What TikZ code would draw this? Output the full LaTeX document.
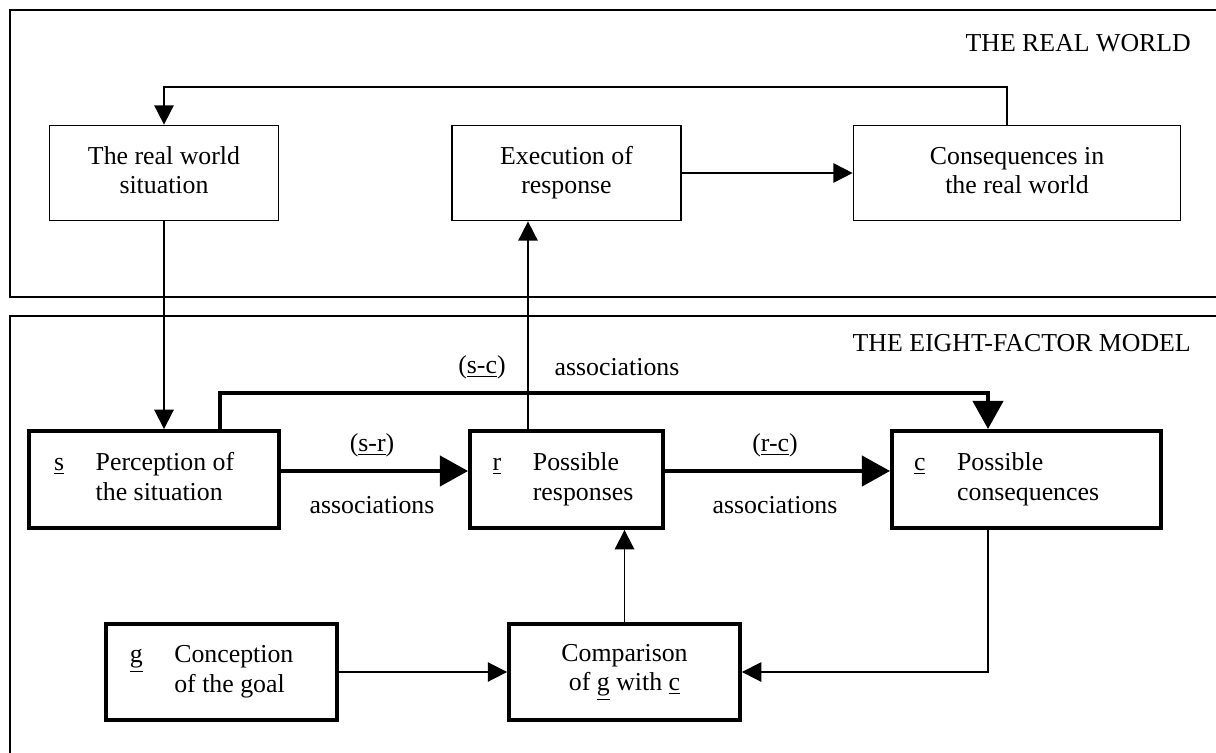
\documentclass[tikz,border=0pt]{standalone}
\usepackage{fontspec}
\setmainfont{Liberation Serif}
\usetikzlibrary{arrows.meta}

\newcommand{\lettered}[4][0pt]{\begin{tabular}{@{}l@{\hspace{18pt}}l@{}}\underline{#2} & #3\\ & #4\end{tabular}\hspace*{#1}}

\begin{document}
\begin{tikzpicture}[x=0.02cm, y=-0.02cm,
	every node/.style={font=\fontsize{14.7}{17}\selectfont},
	panel/.style={draw, line width=0.9pt},
	worldbox/.style={draw, line width=1pt, minimum width=4.58cm, minimum height=1.9cm, align=center, inner sep=0pt},
	factorbox/.style={draw, line width=2.5pt, minimum height=1.93cm, inner sep=0pt},
	thinline/.style={line width=1pt},
	thinarr/.style={line width=1pt, -{Triangle[length=11pt,width=11pt]}},
	thickarr/.style={line width=2.6pt, -{Triangle[length=16pt,width=17pt]}}]
	\useasboundingbox (0, 0) rectangle (1216, 753);
	\clip (0, 0) rectangle (1216, 753);
	\draw[panel] (10, 10) rectangle (1230, 297);
	\draw[panel] (10, 316) rectangle (1230, 780);
	\node[anchor=east] (rwtitle) at (1197, 43) {THE REAL WORLD};
	\node[anchor=east] (eftitle) at (1197, 343) {THE EIGHT-FACTOR MODEL};

	\node[worldbox] (world) at (164, 173) {\strut The real world\\situation\strut};
	\node[worldbox] (exec) at (566.5, 173) {\strut Execution of\\response\strut};
	\node[worldbox, minimum width=6.54cm] (conseq) at (1017, 173) {\strut Consequences in\\the real world\strut};

	\node[factorbox, minimum width=4.99cm] (s) at (154, 479.5) {\lettered[11.3pt]{s}{Perception of}{the situation}};
	\node[factorbox, minimum width=3.85cm] (r) at (566.5, 479.5) {\lettered[4pt]{r}{Possible}{responses}};
	\node[factorbox, minimum width=5.37cm] (c) at (1026.5, 479.5) {\lettered[22.7pt]{c}{Possible}{consequences}};
	\node[factorbox, minimum width=4.61cm] (g) at (221.5, 672) {\lettered[11.3pt]{g}{Conception}{of the goal}};
	\node[factorbox, minimum width=4.61cm, align=center] (cmp) at (624.5, 672) {Comparison\\of \underline{g} with \underline{c}};

	\node (sclbl) at (482, 367) {(\underline{s-c})};
	\node (scass) at (617, 367) {associations};
	\node (srlbl) at (372, 445) {(\underline{s-r})};
	\node (srass) at (372, 505) {associations};
	\node (rclbl) at (775, 445) {(\underline{r-c})};
	\node (rcass) at (775, 505) {associations};

	\coordinate (fb) at (1007, 87);
	\coordinate (assoc) at (0, 471);
	\coordinate (rx) at (528, 0);
	\coordinate (sc) at (220, 393);
	\coordinate (sc2) at (988, 393);

	\draw[thinarr] (conseq.north -| fb) -- (fb) -| (world.north);
	\draw[thinarr] (exec.east) -- (conseq.west);
	\draw[thinarr] (world.south) -- (world.south |- s.north);
	\draw[thinarr] (rx |- r.north) -- (rx |- exec.south);
	\draw[thickarr] (s.east |- assoc) -- (r.west |- assoc);
	\draw[thickarr] (r.east |- assoc) -- (c.west |- assoc);
	\draw[thickarr] (s.north -| sc) |- (sc2) -- (c.north -| sc2);
	\draw[thinarr] (cmp.north) -- (cmp.north |- r.south);
	\draw[thinarr] (g.east) -- (cmp.west);
	\draw[thinarr] (c.south -| sc2) |- (cmp.east);
\end{tikzpicture}
\end{document}
